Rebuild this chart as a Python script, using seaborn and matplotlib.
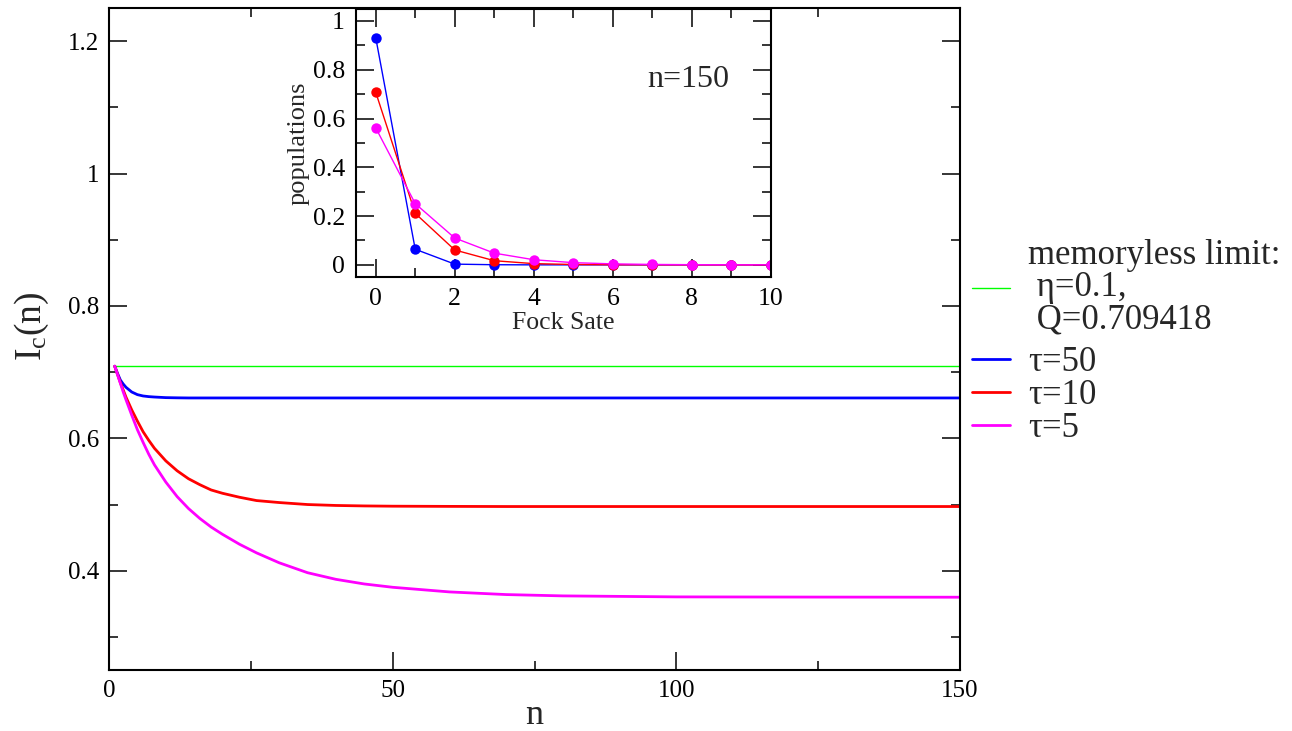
import numpy as np
import pandas as pd
import matplotlib
matplotlib.use('Agg')
import matplotlib.pyplot as plt
from matplotlib.ticker import MultipleLocator
import seaborn as sns

# main curves: I_c(n)
n_vals = [1, 1.5, 2, 2.5, 3, 4, 5, 6, 7, 8, 10, 12, 14, 16, 18, 20, 23, 26, 30,
          35, 40, 45, 50, 60, 70, 80, 100, 125, 150]
ic_tau50 = [0.709, 0.698, 0.688, 0.682, 0.677, 0.670, 0.666, 0.664, 0.663, 0.6624,
            0.6615, 0.6612, 0.661, 0.661, 0.661, 0.661, 0.661, 0.661, 0.661,
            0.661, 0.661, 0.661, 0.661, 0.661, 0.661, 0.661, 0.661, 0.661, 0.661]
ic_tau10 = [0.709, 0.6965, 0.684, 0.673, 0.662, 0.643, 0.626, 0.610, 0.597, 0.585,
            0.566, 0.551, 0.539, 0.530, 0.522, 0.517, 0.511, 0.506, 0.503,
            0.500, 0.4986, 0.4979, 0.4975, 0.4972, 0.497, 0.497, 0.497, 0.497, 0.497]
ic_tau5 = [0.709, 0.696, 0.683, 0.670, 0.658, 0.635, 0.613, 0.594, 0.576, 0.560,
           0.534, 0.512, 0.494, 0.479, 0.466, 0.455, 0.440, 0.427, 0.412,
           0.397, 0.387, 0.380, 0.375, 0.368, 0.364, 0.362, 0.3605, 0.3602, 0.360]
q_limit = 0.709418
n_limit = [1, 150]

# inset: populations of the Fock states at n=150
fock = list(range(11))
pop_tau50 = [0.932, 0.064, 0.003, 0.0005, 0, 0, 0, 0, 0, 0, 0]
pop_tau10 = [0.708, 0.211, 0.061, 0.017, 0.005, 0.0015, 0.0004, 0.0001, 0, 0, 0]
pop_tau5 = [0.562, 0.251, 0.110, 0.048, 0.021, 0.009, 0.004, 0.0017, 0.0007, 0.0003, 0.0001]

sns.set_theme(style='ticks')
plt.rcParams['font.family'] = ['Liberation Serif', 'DejaVu Serif']
plt.rcParams['mathtext.fontset'] = 'custom'
plt.rcParams['mathtext.rm'] = 'Liberation Serif'
plt.rcParams['mathtext.it'] = 'Liberation Serif:italic'
plt.rcParams['axes.edgecolor'] = 'black'
plt.rcParams['xtick.color'] = 'black'
plt.rcParams['ytick.color'] = 'black'

fig = plt.figure(figsize=(12.92, 7.31), dpi=100)
ax = fig.add_axes([0.0844, 0.0834, 0.6586, 0.9056])

sns.lineplot(x=n_limit, y=[q_limit, q_limit], ax=ax, color='#00ff00', lw=1.0,
             label='memoryless limit:\n η=0.1,\n Q=0.709418')
sns.lineplot(x=n_vals, y=ic_tau50, ax=ax, color='#0000ff', lw=2.0, label='τ=50')
sns.lineplot(x=n_vals, y=ic_tau10, ax=ax, color='#ff0000', lw=2.0, label='τ=10')
sns.lineplot(x=n_vals, y=ic_tau5, ax=ax, color='#ff00ff', lw=2.0, label='τ=5')

ax.set_xlim(0, 150)
ax.set_ylim(0.25, 1.25)
ax.set_xticks([0, 50, 100, 150])
ax.set_xticklabels(['0', '50', '100', '150'])
ax.set_yticks([0.4, 0.6, 0.8, 1.0, 1.2])
ax.set_yticklabels(['0.4', '0.6', '0.8', '1', '1.2'])
ax.xaxis.set_minor_locator(MultipleLocator(25))
ax.yaxis.set_minor_locator(MultipleLocator(0.1))
ax.tick_params(which='both', direction='in', top=True, right=True, width=1.1,
               labelsize=18, pad=7)
ax.tick_params(which='major', length=13)
ax.tick_params(which='minor', length=6.5)
for s in ax.spines.values():
    s.set_linewidth(1.5)
ax.set_xlabel('n', fontsize=26, labelpad=-2)
ax.set_ylabel(r'I$_\mathrm{c}$(n)', fontsize=27)
ax.yaxis.set_label_coords(-0.068, 0.52)

handles, labels = ax.get_legend_handles_labels()
leg_kw = dict(bbox_transform=fig.transFigure, frameon=False, fontsize=25,
              handlelength=1.1, handletextpad=0.52, labelspacing=0.0,
              borderpad=0, borderaxespad=0, loc='upper left')
leg1 = ax.legend(handles[:1], labels[:1], bbox_to_anchor=(0.752, 0.673), **leg_kw)
leg1.get_texts()[0].set_linespacing(0.97)
ax.add_artist(leg1)
ax.legend(handles[1:], labels[1:], bbox_to_anchor=(0.752, 0.526), **leg_kw)

# inset
ins = fig.add_axes([0.2755, 0.621, 0.3212, 0.367])
sns.lineplot(x=fock, y=pop_tau50, ax=ins, color='#0000ff', lw=1.0, marker='o',
             markersize=7.5, markeredgewidth=0)
sns.lineplot(x=fock, y=pop_tau10, ax=ins, color='#ff0000', lw=1.0, marker='o',
             markersize=7.5, markeredgewidth=0)
sns.lineplot(x=fock, y=pop_tau5, ax=ins, color='#ff00ff', lw=1.0, marker='o',
             markersize=7.5, markeredgewidth=0)
ins.set_xlim(-0.5, 10)
ins.set_ylim(-0.05, 1.05)
ins.set_xticks([0, 2, 4, 6, 8, 10])
ins.set_yticks([0, 0.2, 0.4, 0.6, 0.8, 1.0])
ins.set_yticklabels(['0', '0.2', '0.4', '0.6', '0.8', '1'])
ins.xaxis.set_minor_locator(MultipleLocator(1))
ins.yaxis.set_minor_locator(MultipleLocator(0.1))
ins.tick_params(which='both', direction='in', top=True, right=True, width=1.1,
                labelsize=18.5, pad=8)
ins.tick_params(which='major', length=13)
ins.tick_params(which='minor', length=6.5)
for s in ins.spines.values():
    s.set_linewidth(1.5)
ins.set_xlabel('Fock Sate', fontsize=18.5, labelpad=1)
ins.set_ylabel('populations', fontsize=19, labelpad=2)
ins.text(0.80, 0.735, 'n=150', transform=ins.transAxes, ha='center', va='center',
         fontsize=23)

fig.savefig('out.png', dpi=100)
